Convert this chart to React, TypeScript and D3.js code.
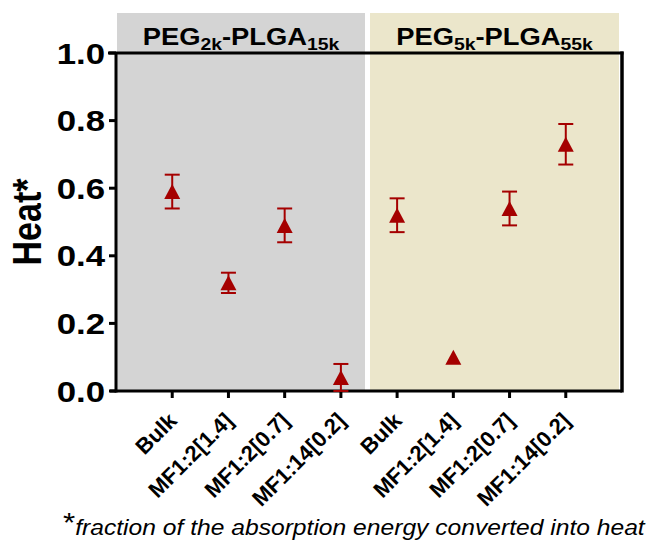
import * as d3 from "d3";

// values
const categories = ["Bulk", "MF1:2[1.4]", "MF1:2[0.7]", "MF1:14[0.2]", "Bulk", "MF1:2[1.4]", "MF1:2[0.7]", "MF1:14[0.2]"];
const heat = [0.59, 0.32, 0.49, 0.04, 0.52, 0.10, 0.54, 0.73];
const heatErr = [0.05, 0.03, 0.05, 0.04, 0.05, 0, 0.05, 0.06];
const groupNames = [
  [["PEG", "2k"], ["-PLGA", "15k"]],
  [["PEG", "5k"], ["-PLGA", "55k"]],
];
const groupFills = ["#d4d4d4", "#ebe6cb"];
const yTicks = [0, 0.2, 0.4, 0.6, 0.8, 1.0];

const W = 652, H = 546;
const left = 116, right = 622, top = 53, bottom = 391;
const red = "#a50000";
const font = "'Liberation Sans', Arial, sans-serif";
const sx = 1.2; // the figure is stretched sideways

const App = () => {
  const x = d3.scaleLinear().domain([0, categories.length + 1]).range([left, right]);
  const y = d3.scaleLinear().domain([0, 1]).range([bottom, top]);
  const mid = x(categories.length / 2 + 0.5);

  const bgs = [
    { x0: left + 1, x1: mid - 4 },
    { x0: mid + 1, x1: right - 3 },
  ];

  const tri = (cx: number, cy: number) => {
    const h = 15, w = 16;
    return `M${cx},${cy - h / 2}L${cx + w / 2},${cy + h / 2}L${cx - w / 2},${cy + h / 2}Z`;
  };

  return (
    <div style={{ position: "fixed", left: 0, top: 0 }}>
      <svg width={W} height={H} style={{ display: "block", background: "#fff" }}>
        {bgs.map((b, i) => (
          <rect key={i} x={b.x0} y={13} width={b.x1 - b.x0} height={bottom - 13} fill={groupFills[i]} />
        ))}
        {bgs.map((b, i) => (
          <text key={"h" + i} transform={`translate(${(b.x0 + b.x1) / 2},45) scale(1.14,1)`}
            textAnchor="middle" fontFamily={font} fontWeight="bold" fontSize={24}>
            {groupNames[i].map((p, j) => (
              <tspan key={j}>
                <tspan dy={j === 0 ? 0 : -5}>{p[0]}</tspan>
                <tspan dy={5} fontSize={17}>{p[1]}</tspan>
              </tspan>
            ))}
          </text>
        ))}

        {/* frame */}
        <line x1={left - 8} x2={right + 1.5} y1={top} y2={top} stroke="#000" strokeWidth={3} />
        <line x1={right} x2={right} y1={top - 1.5} y2={bottom + 1.5} stroke="#000" strokeWidth={3.5} />
        <line x1={left} x2={left} y1={top} y2={bottom + 1.5} stroke="#000" strokeWidth={3} />
        <line x1={left - 6} x2={right} y1={bottom} y2={bottom} stroke="#000" strokeWidth={3} />

        {yTicks.map((t) => (
          <g key={t}>
            <line x1={left - 7} x2={left} y1={y(t)} y2={y(t)} stroke="#000" strokeWidth={3} />
            <text transform={`translate(${left - 11},${y(t) + 10.5}) scale(${sx},1)`} textAnchor="end"
              fontFamily={font} fontWeight="bold" fontSize={29}>{d3.format(".1f")(t)}</text>
          </g>
        ))}
        <text transform={`translate(41,${(top + bottom) / 2}) scale(${sx},1) rotate(-90)`} textAnchor="middle"
          fontFamily={font} fontWeight="bold" fontSize={34}>Heat*</text>

        {categories.map((c, i) => (
          <g key={i}>
            <line x1={x(i + 1)} x2={x(i + 1)} y1={bottom} y2={bottom + 7} stroke="#000" strokeWidth={3} />
            <text transform={`translate(${x(i + 1) + 6},${bottom + 31}) rotate(-45)`} textAnchor="end"
              fontFamily={font} fontWeight="bold" fontSize={22}>{c}</text>
          </g>
        ))}

        {heat.map((v, i) => {
          const cx = x(i + 1);
          const hi = y(v + heatErr[i]), lo = y(v - heatErr[i]);
          return (
            <g key={i} stroke={red} strokeWidth={2}>
              {heatErr[i] > 0 && (
                <>
                  <line x1={cx} x2={cx} y1={hi} y2={lo} />
                  <line x1={cx - 7.5} x2={cx + 7.5} y1={hi} y2={hi} />
                  <line x1={cx - 7.5} x2={cx + 7.5} y1={lo} y2={lo} />
                </>
              )}
              <path d={tri(cx, y(v))} fill={red} stroke="none" />
            </g>
          );
        })}

        <text transform="translate(63,535) scale(1.12,1)" fontFamily={font} fontSize={22}>
          <tspan fontSize={28} dy={-3}>*</tspan>
          <tspan dy={3} fontStyle="italic">fraction of the absorption energy converted into heat</tspan>
        </text>
      </svg>
    </div>
  );
};

export default App;
